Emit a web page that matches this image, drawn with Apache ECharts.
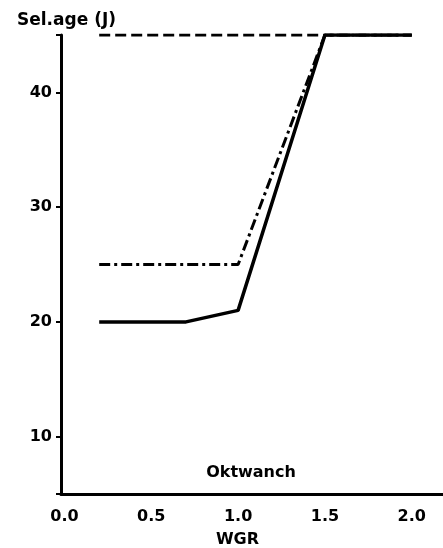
<!DOCTYPE html>
<html>
<head>
<meta charset="utf-8">
<script src="https://cdn.jsdelivr.net/npm/echarts@6/dist/echarts.min.js"></script>
<style>
  html, body { margin: 0; padding: 0; background: #fff; }
  #chart { width: 443px; height: 548px; }
</style>
</head>
<body>
<div id="chart"></div>
<script>
// WGR values and the three selection-age curves
const wgr = [0.2, 0.7, 1.0, 1.5, 2.0];
const upperCurve = [45, 45, 45, 45, 45];          // dashed
const midCurve   = [25, 25, 25, 45, 45];          // dash-dot
const lowerCurve = [20, 20, 21, 45, 45];          // solid

const xTicks = [0, 0.5, 1.0, 1.5, 2.0];
const yTicks = [5, 10, 20, 30, 40, 45];
const yLabels = [10, 20, 30, 40];

const pairs = ys => wgr.map((x, i) => [x, ys[i]]);

const font = 'DejaVu Sans';
const ink = '#000';

const chart = echarts.init(document.getElementById('chart'), null, { renderer: 'canvas' });
chart.setOption({
  animation: false,
  backgroundColor: '#fff',
  title: [
    { text: 'Sel.age (J)', left: 12, top: 7,
      textStyle: { fontFamily: font, fontSize: 17, fontWeight: 'bold', color: ink } },
    { text: 'Oktwanch', left: 246, top: 460, textAlign: 'center',
      textStyle: { fontFamily: font, fontSize: 16, fontWeight: 'bold', color: ink } }
  ],
  grid: { left: 61, right: 0, top: 35, bottom: 54, outerBoundsMode: 'none', containLabel: false },
  xAxis: {
    type: 'value', min: -0.02, max: 2.18,
    name: 'WGR', nameLocation: 'middle', nameGap: 38,
    nameTextStyle: { fontFamily: font, fontSize: 16, fontWeight: 'bold', color: ink, padding: [0, 0, 0, -29] },
    axisLine: { show: true, onZero: false, lineStyle: { color: ink, width: 3 } },
    axisTick: { show: false },
    splitLine: { show: false },
    axisLabel: {
      customValues: xTicks, margin: 15,
      fontFamily: font, fontSize: 16, fontWeight: 'bold', color: ink,
      formatter: v => v.toFixed(1)
    }
  },
  yAxis: {
    type: 'value', min: 5, max: 45,
    axisLine: { show: true, onZero: false, lineStyle: { color: ink, width: 3 } },
    axisTick: { show: true, customValues: yTicks, length: 5, lineStyle: { color: ink, width: 2 } },
    splitLine: { show: false },
    axisLabel: {
      customValues: yLabels, margin: 9,
      fontFamily: font, fontSize: 16, fontWeight: 'bold', color: ink
    }
  },
  series: [
    { type: 'line', data: pairs(upperCurve), symbol: 'none',
      lineStyle: { color: ink, width: 3, type: [11, 5] } },
    { type: 'line', data: pairs(midCurve), symbol: 'none',
      lineStyle: { color: ink, width: 3, type: [11, 4, 3, 4] } },
    { type: 'line', data: pairs(lowerCurve), symbol: 'none',
      lineStyle: { color: ink, width: 3.5 } }
  ]
});
</script>
</body>
</html>
